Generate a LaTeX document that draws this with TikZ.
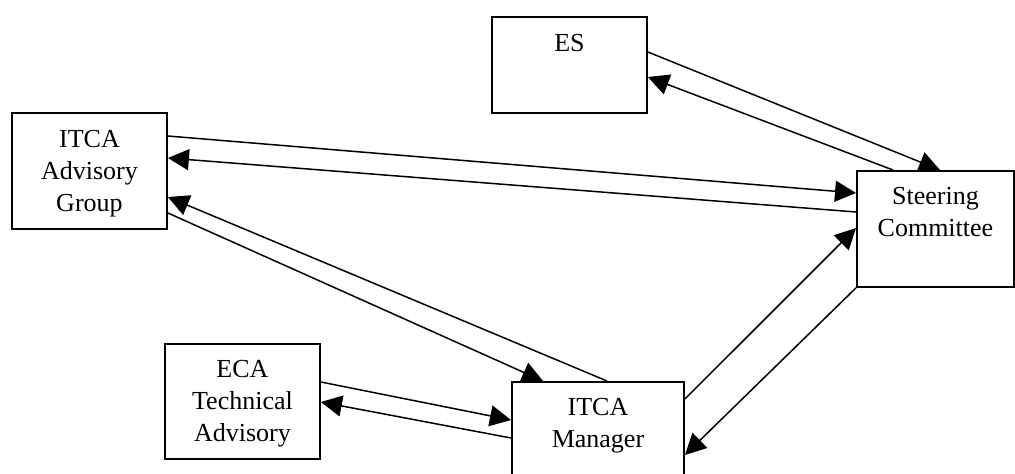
\documentclass[tikz,border=0pt]{standalone}
\usepackage{fontspec}
\setmainfont{Liberation Serif}
\usetikzlibrary{positioning,arrows.meta}

\begin{document}
\begin{tikzpicture}[x=1pt,y=-1pt,
  box/.style={draw,line width=1.9pt,rectangle,inner sep=0pt,anchor=north west},
  txt/.style={align=center,inner sep=0pt,font=\fontsize{26}{32}\selectfont},
  link/.style={line width=1.5pt,-{Triangle[length=21pt,width=21pt]}}]
\clip (0,0) rectangle (1015,474);
% boxes
\node[box,minimum width=155pt,minimum height=96pt] (es) at (491,16) {};
\node[box,minimum width=155pt,minimum height=116pt] (adv) at (11,112) {};
\node[box,minimum width=157pt,minimum height=116pt] (steer) at (856,170) {};
\node[box,minimum width=155pt,minimum height=115pt] (eca) at (164,343) {};
\node[box,minimum width=172pt,minimum height=130pt] (mgr) at (511,381) {};
% texts
\node[txt,below=18pt of es.north] (es-t) {ES};
\node[txt,below=18pt of adv.north] (adv-t) {ITCA\\Advisory\\Group};
\node[txt,below=17pt of steer.north] (steer-t) {Steering\\Committee};
\node[txt,below=17pt of eca.north] (eca-t) {ECA\\Technical\\Advisory};
\node[txt,below=17pt of mgr.north] (mgr-t) {ITCA\\Manager};
% connectors
\draw[link] ([yshift=-36pt]es.north east) -- ([xshift=84pt]steer.north west);
\draw[link] ([xshift=37pt]steer.north west) -- ([yshift=-61pt]es.north east);
\draw[link] ([yshift=-24pt]adv.north east) -- ([yshift=-23pt]steer.north west);
\draw[link] ([yshift=-42pt]steer.north west) -- ([yshift=-46pt]adv.north east);
\draw[link] ([xshift=96pt]mgr.north west) -- ([yshift=-85pt]adv.north east);
\draw[link] ([yshift=-101pt]adv.north east) -- ([xshift=32pt]mgr.north west);
\draw[link] ([yshift=-39pt]eca.north east) -- ([yshift=-39pt]mgr.north west);
\draw[link] ([yshift=-57pt]mgr.north west) -- ([yshift=-59pt]eca.north east);
\draw[link] ([yshift=-18pt]mgr.north east) -- ([yshift=-58pt]steer.north west);
\draw[link] (steer.south west) -- ([yshift=-74pt]mgr.north east);
\end{tikzpicture}
\end{document}
